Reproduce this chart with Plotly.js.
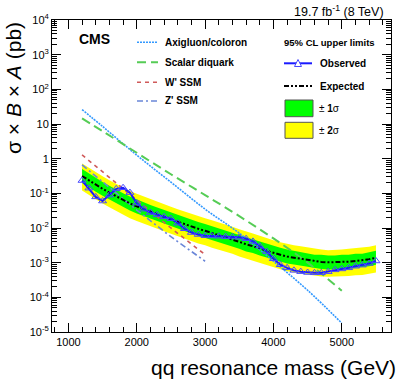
<!DOCTYPE html>
<html>
<head>
<meta charset="utf-8">
<script src="https://cdn.plot.ly/plotly-3.0.1.min.js"></script>
<style>
  html, body { margin: 0; padding: 0; background: #fff; }
  #plot { width: 399px; height: 383px; }
</style>
</head>
<body>
<div id="plot"></div>
<script>
// Mass points of the limit scan (GeV)
const mass = [1200, 1300, 1400, 1500, 1600, 1700, 1800, 1900, 2000, 2100, 2200, 2300, 2400, 2500,
  2600, 2700, 2800, 2900, 3000, 3100, 3200, 3300, 3400, 3500, 3600, 3700, 3800, 3900, 4000,
  4100, 4200, 4300, 4400, 4500, 4600, 4700, 4800, 4900, 5000, 5100, 5200, 5300, 5400, 5500];

// 95% CL limits (pb)
const observed = [0.234, 0.141, 0.079, 0.060, 0.089, 0.135, 0.145, 0.105, 0.052, 0.035, 0.028, 0.024,
  0.021, 0.0186, 0.0138, 0.0095, 0.0074, 0.0065, 0.0060, 0.0059, 0.0058, 0.0056, 0.0055, 0.0054, 0.0049,
  0.0041, 0.0030, 0.0021, 0.0013, 0.00087, 0.00071, 0.00060, 0.00055, 0.00052, 0.00051, 0.00051,
  0.00055, 0.00062, 0.00066, 0.00071, 0.00079, 0.00085, 0.00095, 0.00112];
const expected = [0.316, 0.234, 0.178, 0.135, 0.105, 0.081, 0.063, 0.051, 0.042, 0.035, 0.029, 0.0245,
  0.021, 0.0178, 0.0151, 0.0129, 0.011, 0.0095, 0.0083, 0.0072, 0.0063, 0.0055, 0.0047, 0.0040, 0.0034,
  0.0030, 0.0026, 0.0022, 0.0019, 0.0017, 0.0015, 0.0014, 0.0013, 0.0012, 0.0011, 0.00105,
  0.00102, 0.00102, 0.00105, 0.00107, 0.00112, 0.00117, 0.00126, 0.00138];
const oneSigmaUp = [0.50, 0.37, 0.28, 0.213, 0.166, 0.128, 0.100, 0.081, 0.066, 0.055, 0.046, 0.039,
  0.033, 0.028, 0.024, 0.020, 0.0174, 0.0150, 0.0131, 0.0114, 0.0100, 0.0087, 0.0074, 0.0063, 0.0054,
  0.0047, 0.0041, 0.0035, 0.0030, 0.0027, 0.0024, 0.0022, 0.0021, 0.0019, 0.0017, 0.0017,
  0.0016, 0.0016, 0.0017, 0.0017, 0.0018, 0.0018, 0.0020, 0.0022];
const oneSigmaDown = [0.20, 0.147, 0.112, 0.085, 0.066, 0.051, 0.040, 0.032, 0.026, 0.022, 0.018, 0.0154,
  0.0132, 0.0112, 0.0095, 0.0081, 0.0069, 0.0060, 0.0052, 0.0045, 0.0040, 0.0035, 0.0030, 0.0025, 0.0021,
  0.0019, 0.0016, 0.0014, 0.0012, 0.0011, 0.00095, 0.00088, 0.00082, 0.00076, 0.00069, 0.00066,
  0.00064, 0.00064, 0.00066, 0.00067, 0.00071, 0.00074, 0.00079, 0.00087];
const twoSigmaUp = [0.73, 0.54, 0.41, 0.31, 0.24, 0.186, 0.145, 0.117, 0.097, 0.081, 0.067, 0.056,
  0.048, 0.041, 0.035, 0.030, 0.025, 0.022, 0.019, 0.0166, 0.0145, 0.0127, 0.0108, 0.0092, 0.0078,
  0.0069, 0.0060, 0.0051, 0.0044, 0.0039, 0.0035, 0.0032, 0.0030, 0.0028, 0.0025, 0.0024,
  0.0023, 0.0023, 0.0024, 0.0025, 0.0026, 0.0027, 0.0029, 0.0032];
const twoSigmaDown = [0.120, 0.089, 0.068, 0.051, 0.040, 0.031, 0.024, 0.019, 0.016, 0.0133, 0.011, 0.0093,
  0.0080, 0.0068, 0.0057, 0.0049, 0.0042, 0.0036, 0.0032, 0.0027, 0.0024, 0.0021, 0.0018, 0.0015, 0.0013,
  0.00114, 0.00099, 0.00084, 0.00072, 0.00065, 0.00057, 0.00053, 0.00049, 0.00046, 0.00042, 0.00040,
  0.00039, 0.00039, 0.00040, 0.00041, 0.00043, 0.00044, 0.00048, 0.00052];

// Model cross sections (pb)
const modelMassLong = [1200, 1500, 2000, 2500, 3000, 3500, 4000, 4500, 5000];
const axigluon = [26, 8.5, 1.26, 0.21, 0.035, 0.0071, 0.0011, 0.00016, 0.000018];
const diquark = [14.5, 6.2, 1.48, 0.355, 0.089, 0.022, 0.005, 0.001, 0.000155];
const modelMassShort = [1200, 1500, 2000, 2500, 3000];
const wprime = [1.28, 0.42, 0.063, 0.010, 0.0017];
const zprime = [0.66, 0.21, 0.033, 0.0056, 0.0011];

const yTickVals = [1e4, 1e3, 1e2, 10, 1, 0.1, 0.01, 1e-3, 1e-4, 1e-5];
const yTickText = ["10<sup>4</sup>", "10<sup>3</sup>", "10<sup>2</sup>", "10", "1", "10<sup>-1</sup>",
  "10<sup>-2</sup>", "10<sup>-3</sup>", "10<sup>-4</sup>", "10<sup>-5</sup>"];

const FONT = "Liberation Sans, Arial, Helvetica, sans-serif";
const C = {
  yellow: "#ffff00",
  green: "#00ff00",
  observed: "#1a1aff",
  axigluon: "#3399ff",
  diquark: "#55cc55",
  wprime: "#d05a5a",
  zprime: "#6a86d8",
};

// frame in pixels: left 52, right 391, top 20, bottom 332
const px = x => (x - 52) / 339;
const py = y => (332 - y) / 312;

const traces = [
  { x: mass, y: twoSigmaUp, mode: "lines", line: { width: 0 } },
  { x: mass, y: twoSigmaDown, mode: "lines", line: { width: 0 }, fill: "tonexty", fillcolor: C.yellow },
  { x: mass, y: oneSigmaUp, mode: "lines", line: { width: 0 } },
  { x: mass, y: oneSigmaDown, mode: "lines", line: { width: 0 }, fill: "tonexty", fillcolor: C.green },
  { x: modelMassLong, y: axigluon, mode: "lines", line: { color: C.axigluon, width: 1.6, dash: "2px,1px", shape: "spline" } },
  { x: modelMassLong, y: diquark, mode: "lines", line: { color: C.diquark, width: 2, dash: "9px,5px", shape: "spline" } },
  { x: modelMassShort, y: wprime, mode: "lines", line: { color: C.wprime, width: 1.6, dash: "4px,4px" } },
  { x: modelMassShort, y: zprime, mode: "lines", line: { color: C.zprime, width: 1.6, dash: "6px,3px,2px,3px" } },
  { x: mass, y: expected, mode: "lines", line: { color: "#000", width: 2, dash: "5px,2px,2px,2px,2px,2px" } },
  {
    x: mass, y: observed, mode: "lines+markers",
    line: { color: C.observed, width: 2 },
    marker: { symbol: "triangle-up-open", size: 7, color: "#4a4aff", line: { width: 1 } },
  },
];

const legendLine = (x0, x1, y, color, width, dash) => ({
  type: "line", xref: "paper", yref: "paper",
  x0: px(x0), x1: px(x1), y0: py(y), y1: py(y),
  line: { color, width, dash },
});
const legendBox = (y0, y1, fill) => ({
  type: "rect", xref: "paper", yref: "paper",
  x0: px(285), x1: px(313), y0: py(y0), y1: py(y1),
  fillcolor: fill, line: { color: "#555", width: 1 },
});
const label = (x, y, text, size, extra) => Object.assign({
  xref: "paper", yref: "paper", x: px(x), y: py(y), text,
  showarrow: false, xanchor: "left", yanchor: "middle",
  font: { family: FONT, size, color: "#000" },
}, extra || {});

const shapes = [
  legendLine(137, 158, 42.3, C.axigluon, 1.6, "2px,1px"),
  legendLine(137, 158, 62.3, C.diquark, 2, "9px,5px"),
  legendLine(137, 158, 82.3, C.wprime, 1.6, "4px,4px"),
  legendLine(137, 158, 101, C.zprime, 1.6, "6px,3px,2px,3px"),
  legendLine(284, 312, 63.3, C.observed, 2, "solid"),
  legendLine(284, 313, 86, "#000", 2, "5px,2px,2px,2px,2px,2px"),
  {
    type: "path", xref: "paper", yref: "paper",
    path: `M ${px(294.5)} ${py(66.5)} L ${px(301.5)} ${py(66.5)} L ${px(298)} ${py(59.5)} Z`,
    fillcolor: "#fff", line: { color: "#4a4aff", width: 1 },
  },
  legendBox(100, 116.7, C.green),
  legendBox(122.3, 138.3, C.yellow),
];

const annotations = [
  label(77, 39, "<b>CMS</b>", 14),
  label(163, 42.3, "<b>Axigluon/coloron</b>", 10),
  label(163, 62.3, "<b>Scalar diquark</b>", 10),
  label(163, 82.3, "<b>W' SSM</b>", 10),
  label(163, 101, "<b>Z' SSM</b>", 10),
  label(282, 42.7, "<b>95% CL upper limits</b>", 9.5),
  label(318, 63.3, "<b>Observed</b>", 10),
  label(318, 86, "<b>Expected</b>", 10),
  label(317, 108.5, "± <b>1</b>σ", 10),
  label(317, 130.5, "± <b>2</b>σ", 10),
  label(386, 11, "19.7 fb<sup>-1</sup> (8 TeV)", 12.5, { xanchor: "right" }),
  label(398, 367, "qq resonance mass (GeV)", 21, { xanchor: "right" }),
  label(13, 88, "σ × <i>B</i> × <i>A</i> (pb)", 21, { xanchor: "center", textangle: -90 }),
];

const layout = {
  width: 399,
  height: 383,
  margin: { l: 52, r: 8, t: 20, b: 51 },
  paper_bgcolor: "#fff",
  plot_bgcolor: "#fff",
  showlegend: false,
  font: { family: FONT, size: 11, color: "#000" },
  xaxis: {
    range: [760, 5720],
    tickvals: [1000, 2000, 3000, 4000, 5000],
    ticktext: ["1000", "2000", "3000", "4000", "5000"],
    ticks: "inside", ticklen: 9, tickcolor: "#000", tickwidth: 1,
    minor: { dtick: 200, tick0: 0, ticks: "inside", ticklen: 5, tickcolor: "#000", tickwidth: 1 },
    showline: true, linecolor: "#000", linewidth: 1, mirror: "allticks",
    showgrid: false, zeroline: false,
    tickfont: { family: FONT, size: 11 },
  },
  yaxis: {
    type: "log",
    range: [-5, 4],
    tickvals: yTickVals,
    ticktext: yTickText,
    ticks: "inside", ticklen: 9, tickcolor: "#000", tickwidth: 1,
    minor: { dtick: "D1", ticks: "inside", ticklen: 5, tickcolor: "#000", tickwidth: 1 },
    showline: true, linecolor: "#000", linewidth: 1, mirror: "allticks",
    showgrid: false, zeroline: false,
    tickfont: { family: FONT, size: 11 },
  },
  shapes,
  annotations,
};

Plotly.newPlot("plot", traces, layout, { staticPlot: true });
</script>
</body>
</html>
